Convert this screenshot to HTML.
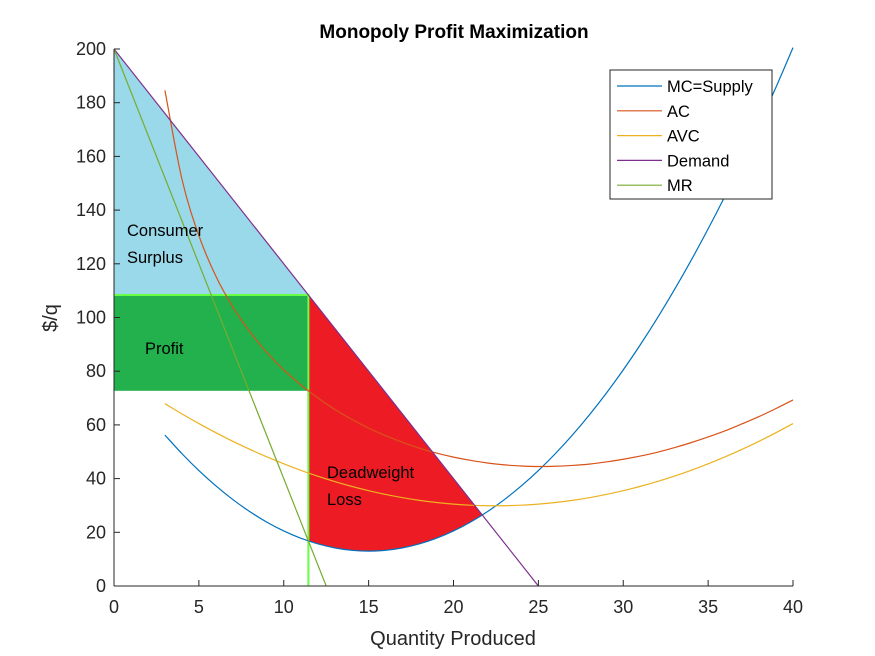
<!DOCTYPE html>
<html><head><meta charset="utf-8"><style>
body{margin:0;background:#fff}
svg{display:block}
text{font-family:"Liberation Sans",sans-serif}
</style></head><body>
<svg id="chart" width="875" height="656" viewBox="0 0 875 656">
<rect width="875" height="656" fill="#fff"/>
<g id="fills"></g>
<g id="lines"></g>
<g id="axes"></g>
<text x="454" y="38" text-anchor="middle" font-weight="bold" font-size="19" fill="#000">Monopoly Profit Maximization</text>
<text x="453" y="645" text-anchor="middle" font-size="20" fill="#262626">Quantity Produced</text>
<text transform="translate(57,318) rotate(-90)" text-anchor="middle" font-size="20" fill="#262626">$/q</text>
<g font-family="Liberation Sans, DejaVu Sans, sans-serif" font-size="16.5" fill="#000">
<text x="127" y="236">Consumer</text>
<text x="127" y="263">Surplus</text>
<text x="145" y="354">Profit</text>
<text x="327" y="478">Deadweight</text>
<text x="327" y="505">Loss</text>
</g>
<g>
<rect x="610" y="70" width="162" height="129" fill="#fff" stroke="#262626" stroke-width="1"/>
<g id="legend-items"></g>
</g>
</svg>
<script>
const costQ=[3,4,5,6,7,8,9,10,11,12,13,14,15,16,17,18,19,20,21,22,23,24,25,26,27,28,29,30,31,32,33,34,35,36,37,38,39,40];
const mcVals=[56.2,49.3,43,37.3,32.2,27.7,23.8,20.5,17.8,15.7,14.2,13.3,13,13.3,14.2,15.7,17.8,20.5,23.8,27.7,32.2,37.3,43,49.3,56.2,63.7,71.8,80.5,89.8,99.7,110.2,121.3,133,145.3,158.2,171.7,185.8,200.5];
const acVals=[184.6,151.6,130.5,115.4,103.9,94.7,87.0,80.5,74.9,70.1,65.8,62.1,58.8,56.0,53.5,51.3,49.5,48.0,46.8,45.8,45.1,44.7,44.5,44.6,44.9,45.4,46.2,47.2,48.4,49.8,51.5,53.4,55.5,57.8,60.4,63.1,66.1,69.3];
const avcVals=[67.9,64.1,60.5,57.1,53.9,50.9,48.1,45.5,43.1,40.9,38.9,37.1,35.5,34.1,32.9,31.9,31.1,30.5,30.1,29.9,29.9,30.1,30.5,31.1,31.9,32.9,34.1,35.5,37.1,38.9,40.9,43.1,45.5,48.1,50.9,53.9,57.1,60.5];
const demandQ=[0,25];
const demandVals=[200,0];
const mrQ=[0,12.5];
const mrVals=[200,0];
const monopolyQ=11.45;
const monopolyPrice=108.4;
const monopolyAC=72.7;
const equilibriumQ=21.7;
const xTicks=[0,5,10,15,20,25,30,35,40];
const yTicks=[0,20,40,60,80,100,120,140,160,180,200];
const legendLabels=["MC=Supply","AC","AVC","Demand","MR"];
const seriesColors=["#0072BD","#D95319","#EDB120","#7E2F8E","#77AC30"];

const X=q=>114+q*(793-114)/40;
const Y=v=>586-v*(586-49)/200;
const NS="http://www.w3.org/2000/svg";
function mk(tag,attrs,parent){const e=document.createElementNS(NS,tag);for(const k in attrs)e.setAttribute(k,attrs[k]);parent.appendChild(e);return e;}
function interp(qs,vs,q){for(let i=0;i<qs.length-1;i++){if(q>=qs[i]&&q<=qs[i+1]){const t=(q-qs[i])/(qs[i+1]-qs[i]);return vs[i]+t*(vs[i+1]-vs[i]);}}return vs[vs.length-1];}
function smooth(qs,vs){const p=qs.map((q,i)=>[X(q),Y(vs[i])]);let d="M"+p[0][0]+","+p[0][1];for(let i=0;i<p.length-1;i++){const p0=p[Math.max(0,i-1)],p1=p[i],p2=p[i+1],p3=p[Math.min(p.length-1,i+2)];d+=` C${p1[0]+(p2[0]-p0[0])/6},${p1[1]+(p2[1]-p0[1])/6} ${p2[0]-(p3[0]-p1[0])/6},${p2[1]-(p3[1]-p1[1])/6} ${p2[0]},${p2[1]}`;}return d;}
const fills=document.getElementById('fills'),lines=document.getElementById('lines'),axes=document.getElementById('axes');
const dem=q=>interp(demandQ,demandVals,q);
// consumer surplus
let cs=mk('polygon',{points:`${X(0)},${Y(dem(0))} ${X(monopolyQ)},${Y(monopolyPrice)} ${X(0)},${Y(monopolyPrice)}`,fill:"#99d9ea"},fills);


// profit
let pr=mk('rect',{x:X(0),y:Y(monopolyPrice),width:X(monopolyQ)-X(0),height:Y(monopolyAC)-Y(monopolyPrice),fill:"#22b14c"},fills);


// deadweight loss
let pts=[[X(monopolyQ),Y(monopolyPrice)],[X(equilibriumQ),Y(dem(equilibriumQ))]];
for(let q=equilibriumQ;q>=monopolyQ;q-=0.1)pts.push([X(q),Y(interp(costQ,mcVals,q))]);
pts.push([X(monopolyQ),Y(interp(costQ,mcVals,monopolyQ))]);
let dw=mk('polygon',{points:pts.map(p=>p.join(',')).join(' '),fill:"#ed1c24"},fills);


// green guide lines
let gl=mk('polyline',{points:`${X(0)},${Y(monopolyPrice)} ${X(monopolyQ)},${Y(monopolyPrice)} ${X(monopolyQ)},${Y(0)}`,fill:"none",stroke:"#66ff44","stroke-width":2},fills);


// curves
const curves=[[costQ,mcVals,'mc-supply-curve'],[costQ,acVals,'ac-curve'],[costQ,avcVals,'avc-curve'],[demandQ,demandVals,'demand-curve'],[mrQ,mrVals,'mr-curve']];
curves.forEach((c,i)=>{
 const d=c[0].length>2?smooth(c[0],c[1]):`M${X(c[0][0])},${Y(c[1][0])} L${X(c[0][1])},${Y(c[1][1])}`;
 const p=mk('path',{d:d,fill:"none",stroke:seriesColors[i],"stroke-width":1.2},lines);
 
 
});
// axes
let xa=mk('line',{x1:X(0),y1:Y(0),x2:X(40),y2:Y(0),stroke:"#262626","stroke-width":1},axes);


let ya=mk('line',{x1:X(0),y1:Y(0),x2:X(0),y2:Y(200),stroke:"#262626","stroke-width":1},axes);


xTicks.forEach(t=>{
 mk('line',{x1:X(t),y1:Y(0),x2:X(t),y2:Y(0)-6,stroke:"#262626"},axes);
 const tx=mk('text',{x:X(t),y:613,"text-anchor":"middle","font-size":"18",fill:"#262626"},axes);
 tx.textContent=t;
 
 
});
yTicks.forEach(t=>{
 mk('line',{x1:X(0),y1:Y(t),x2:X(0)+6,y2:Y(t),stroke:"#262626"},axes);
 const tx=mk('text',{x:106,y:Y(t)+6,"text-anchor":"end","font-size":"18",fill:"#262626"},axes);
 tx.textContent=t;
 
 
});
// legend
const lg=document.getElementById('legend-items');
legendLabels.forEach((l,i)=>{
 const y=86+i*24.8;
 const ln=mk('line',{x1:617,y1:y,x2:662,y2:y,stroke:seriesColors[i],"stroke-width":1.2},lg);
 
 
 const tx=mk('text',{x:667,y:y+6,"font-size":"16.5",fill:"#000"},lg);
 tx.textContent=l;
 
 
});
</script>
</body></html>
